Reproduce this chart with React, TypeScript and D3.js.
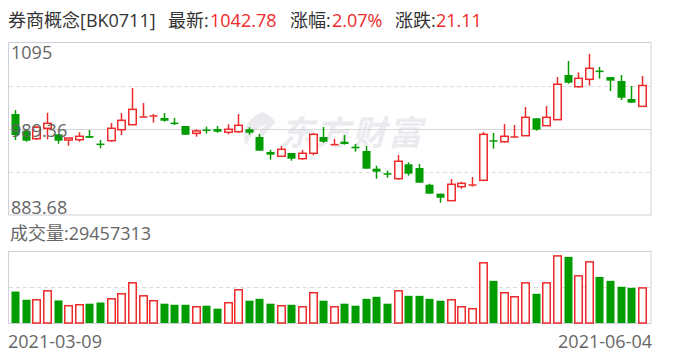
import React from "react";
import * as d3 from "d3";

const dates = [
  "2021-03-09","2021-03-10","2021-03-11","2021-03-12","2021-03-15","2021-03-16","2021-03-17","2021-03-18","2021-03-19","2021-03-22",
  "2021-03-23","2021-03-24","2021-03-25","2021-03-26","2021-03-29","2021-03-30","2021-03-31","2021-04-01","2021-04-02","2021-04-06",
  "2021-04-07","2021-04-08","2021-04-09","2021-04-12","2021-04-13","2021-04-14","2021-04-15","2021-04-16","2021-04-19","2021-04-20",
  "2021-04-21","2021-04-22","2021-04-23","2021-04-26","2021-04-27","2021-04-28","2021-04-29","2021-04-30","2021-05-06","2021-05-07",
  "2021-05-10","2021-05-11","2021-05-12","2021-05-13","2021-05-14","2021-05-17","2021-05-18","2021-05-19","2021-05-20","2021-05-21",
  "2021-05-24","2021-05-25","2021-05-26","2021-05-27","2021-05-28","2021-05-31","2021-06-01","2021-06-02","2021-06-03","2021-06-04",
];

const openP = [
  1007.8, 987.3, 977.4, 990.2, 982.8, 975.8, 976.2, 980.7, 970.9, 975.0,
  988.5, 994.6, 1003.2, 1004.5, 1002.9, 996.7, 993.0, 984.0, 988.0, 989.3,
  985.3, 986.0, 989.0, 979.5, 961.1, 955.8, 959.9, 952.9, 959.5, 979.5,
  969.3, 973.7, 967.6, 962.3, 940.6, 934.3, 928.3, 946.0, 941.4, 920.9,
  909.9, 901.3, 918.5, 919.3, 926.3, 974.9, 973.7, 978.6, 981.1, 1002.5,
  993.4, 1000.8, 1055.7, 1041.3, 1050.4, 1060.4, 1053.2, 1048.3, 1026.2, 1017.2,
];
const closeP = [
  982.0, 975.0, 991.4, 996.3, 975.0, 978.3, 980.4, 978.6, 970.1, 990.2,
  1000.0, 1013.5, 1004.1, 1005.3, 999.5, 995.9, 982.3, 986.9, 987.6, 986.0,
  989.0, 993.9, 984.8, 962.7, 957.8, 964.4, 952.9, 959.5, 982.8, 973.7,
  970.1, 970.9, 965.6, 940.6, 936.9, 933.8, 949.7, 934.4, 923.4, 909.9,
  904.9, 921.4, 922.6, 920.5, 982.8, 974.4, 980.4, 979.5, 1003.7, 988.5,
  1003.7, 1044.3, 1046.2, 1051.6, 1063.9, 1060.0, 1048.7, 1027.8, 1021.67, 1042.78,
];
const highP = [
  1012.7, 989.0, 993.0, 1009.4, 982.8, 978.3, 985.3, 988.1, 975.8, 996.7,
  1009.0, 1039.7, 1021.3, 1007.8, 1009.0, 1002.9, 993.0, 989.0, 992.2, 993.0,
  995.1, 1007.8, 991.4, 983.2, 963.9, 968.5, 959.9, 963.5, 984.4, 991.8,
  977.1, 982.0, 970.9, 968.5, 944.3, 938.1, 957.4, 948.4, 946.3, 922.1,
  909.9, 927.9, 924.6, 930.4, 985.7, 984.4, 995.5, 994.3, 1016.4, 1002.5,
  1017.6, 1053.2, 1072.9, 1059.0, 1081.5, 1065.5, 1053.2, 1055.7, 1042.2, 1054.5,
];
const lowP = [
  975.8, 973.7, 975.8, 976.7, 971.3, 968.8, 973.7, 978.6, 965.6, 973.7,
  982.0, 994.6, 1003.2, 997.1, 998.3, 994.3, 982.3, 979.9, 983.6, 984.8,
  982.8, 984.8, 982.3, 962.7, 951.6, 955.8, 950.4, 951.6, 957.0, 972.5,
  969.3, 970.1, 961.5, 940.6, 928.3, 929.5, 927.1, 932.0, 923.4, 909.9,
  898.8, 901.3, 916.0, 918.5, 926.3, 965.1, 972.5, 978.6, 981.1, 987.3,
  993.4, 1000.8, 1045.0, 1040.1, 1042.6, 1051.2, 1036.0, 1025.0, 1021.67, 1017.2,
];
const volumes = [
  26.4, 19.5, 19.5, 27.0, 18.9, 14.5, 15.3, 16.2, 17.2, 20.3,
  24.5, 33.7, 22.8, 18.7, 16.2, 15.3, 15.3, 13.6, 14.5, 12.0,
  17.0, 27.9, 18.7, 20.3, 16.2, 14.5, 15.3, 13.6, 25.4, 18.7,
  13.6, 16.2, 14.5, 20.3, 22.0, 16.2, 27.0, 22.8, 22.8, 20.3,
  18.7, 19.5, 13.6, 12.0, 50.5, 35.4, 25.4, 22.0, 33.7, 24.5,
  33.7, 56.3, 55.5, 39.6, 51.3, 38.7, 35.4, 30.4, 29.5, 29.457313,
].map((v) => v * 1e6);

const priceTicks = [1095, 989.36, 883.68];
const headerName = "券商概念[BK0711]";
const lastPrice = "1042.78";
const changePct = "2.07%";
const changeAmt = "21.11";
const lastVolume = "29457313";

const RED = "#ee2a2a";
const GREEN = "#009c00";
const GRID = "#dcdcdc";
const BORDER = "#d0d0d8";
const FONT = "'Open Sans', 'Noto Sans CJK SC', sans-serif";

export default function App() {
  const W = 688, H = 360;
  const L = 8, R = 651;
  const pTop = 42.5, pBot = 215;
  const vTop = 251.5, vBot = 323.5;

  const x = d3.scalePoint<number>().domain(d3.range(dates.length)).range([15, 642]);
  const y = d3.scaleLinear().domain([883.68, 1095]).range([pBot, pTop + 0.5]);
  const yv = d3.scaleLinear().domain([0, 60e6]).range([vBot - 0.5, vTop]);
  const bw = 8;

  const gridYs = [y(1095) + (y(883.68) - y(1095)) * 0.25, y(989.36), y(1095) + (y(883.68) - y(1095)) * 0.75];

  return (
    <svg width={W} height={H} style={{ position: "absolute", left: 0, top: 0 }} fontFamily={FONT}>
      <rect width={W} height={H} fill="#fff" />
      {/* header */}
      <g fontSize={18} dominantBaseline="alphabetic">
        <text x={8} y={27} fill="#333">{headerName}</text>
        <text x={168} y={27} fill="#333">最新:</text>
        <text x={210} y={27} fill={RED}>{lastPrice}</text>
        <text x={290} y={27} fill="#333">涨幅:</text>
        <text x={332} y={27} fill={RED}>{changePct}</text>
        <text x={395} y={27} fill="#333">涨跌:</text>
        <text x={436} y={27} fill={RED}>{changeAmt}</text>
      </g>

      {/* watermark */}
      <g fill="#ebebef">
        <path d="M262 112 C 248 118, 240 132, 246 146 C 250 136, 256 128, 266 124 C 258 132, 254 140, 256 148 C 262 136, 270 128, 276 122 C 272 118, 268 114, 262 112 Z" />
        <text x={280} y={145} fontSize={34} fontWeight="bold" letterSpacing={2} fontStyle="italic" fontFamily="'Noto Sans CJK SC', sans-serif">东方财富</text>
      </g>

      {/* price box */}
      <rect x={L + 0.5} y={pTop} width={R - L - 0.5} height={pBot - pTop} fill="none" stroke={BORDER} />
      {gridYs.map((gy, i) => (
        <line key={i} x1={L + 1} x2={R} y1={Math.round(gy) + 0.5} y2={Math.round(gy) + 0.5}
          stroke={i === 1 ? "#d8d8d8" : GRID} strokeDasharray={i === 1 ? undefined : "4,3"} />
      ))}

      {/* candles */}
      {dates.map((d, i) => {
        const cx = Math.round(x(i)!);
        const o = openP[i], c = closeP[i], h = highP[i], l = lowP[i];
        const up = c >= o;
        const col = up ? RED : GREEN;
        const yTop = y(Math.max(o, c)), yBotB = y(Math.min(o, c));
        const bodyH = Math.max(yBotB - yTop, 0);
        if (up) {
          return (
            <g key={d} stroke={col}>
              <line x1={cx + 0.5} x2={cx + 0.5} y1={y(h)} y2={yTop} strokeWidth={1.5} />
              <line x1={cx + 0.5} x2={cx + 0.5} y1={yBotB} y2={y(l)} strokeWidth={1.5} />
              {bodyH < 1.5 ? (
                <line x1={cx - 3.5} x2={cx + 4.5} y1={yTop} y2={yTop} strokeWidth={1.5} />
              ) : (
                <rect x={cx - 3.25} y={yTop} width={bw - 0.5} height={bodyH} fill="#fff" strokeWidth={1.5} />
              )}
            </g>
          );
        }
        return (
          <g key={d}>
            <line x1={cx + 0.5} x2={cx + 0.5} y1={y(h)} y2={y(l)} stroke={col} strokeWidth={1.5} />
            {bodyH < 1.5 ? (
              <line x1={cx - 3.5} x2={cx + 4.5} y1={(yTop + yBotB) / 2} y2={(yTop + yBotB) / 2} stroke={col} strokeWidth={1.5} />
            ) : (
              <rect x={cx - 3.5} y={yTop} width={bw} height={bodyH} fill={col} />
            )}
          </g>
        );
      })}

      {/* price labels */}
      <g fontSize={18} fill="#666">
        <text x={11} y={59}>{priceTicks[0]}</text>
        <text x={11} y={137}>{priceTicks[1]}</text>
        <text x={11} y={214}>{priceTicks[2]}</text>
      </g>

      {/* volume */}
      <text x={10} y={240} fontSize={18} fill="#666">成交量:{lastVolume}</text>
      <rect x={L + 0.5} y={vTop} width={R - L - 0.5} height={vBot - vTop} fill="none" stroke={BORDER} />
      <line x1={L + 1} x2={R} y1={Math.round(yv(30e6)) + 0.5} y2={Math.round(yv(30e6)) + 0.5} stroke={GRID} strokeDasharray="4,3" />
      {dates.map((d, i) => {
        const cx = Math.round(x(i)!);
        const up = closeP[i] >= openP[i];
        const top = yv(volumes[i]);
        const bottom = vBot - 0.5;
        return up ? (
          <rect key={d} x={cx - 3.25} y={top} width={bw - 0.5} height={bottom - top} fill="#fff" stroke={RED} strokeWidth={1.5} />
        ) : (
          <rect key={d} x={cx - 3.5} y={top} width={bw} height={bottom - top} fill={GREEN} />
        );
      })}

      {/* dates */}
      <g fontSize={18} fill="#666">
        <text x={8} y={348}>{dates[0]}</text>
        <text x={652} y={348} textAnchor="end">{dates[dates.length - 1]}</text>
      </g>
    </svg>
  );
}
